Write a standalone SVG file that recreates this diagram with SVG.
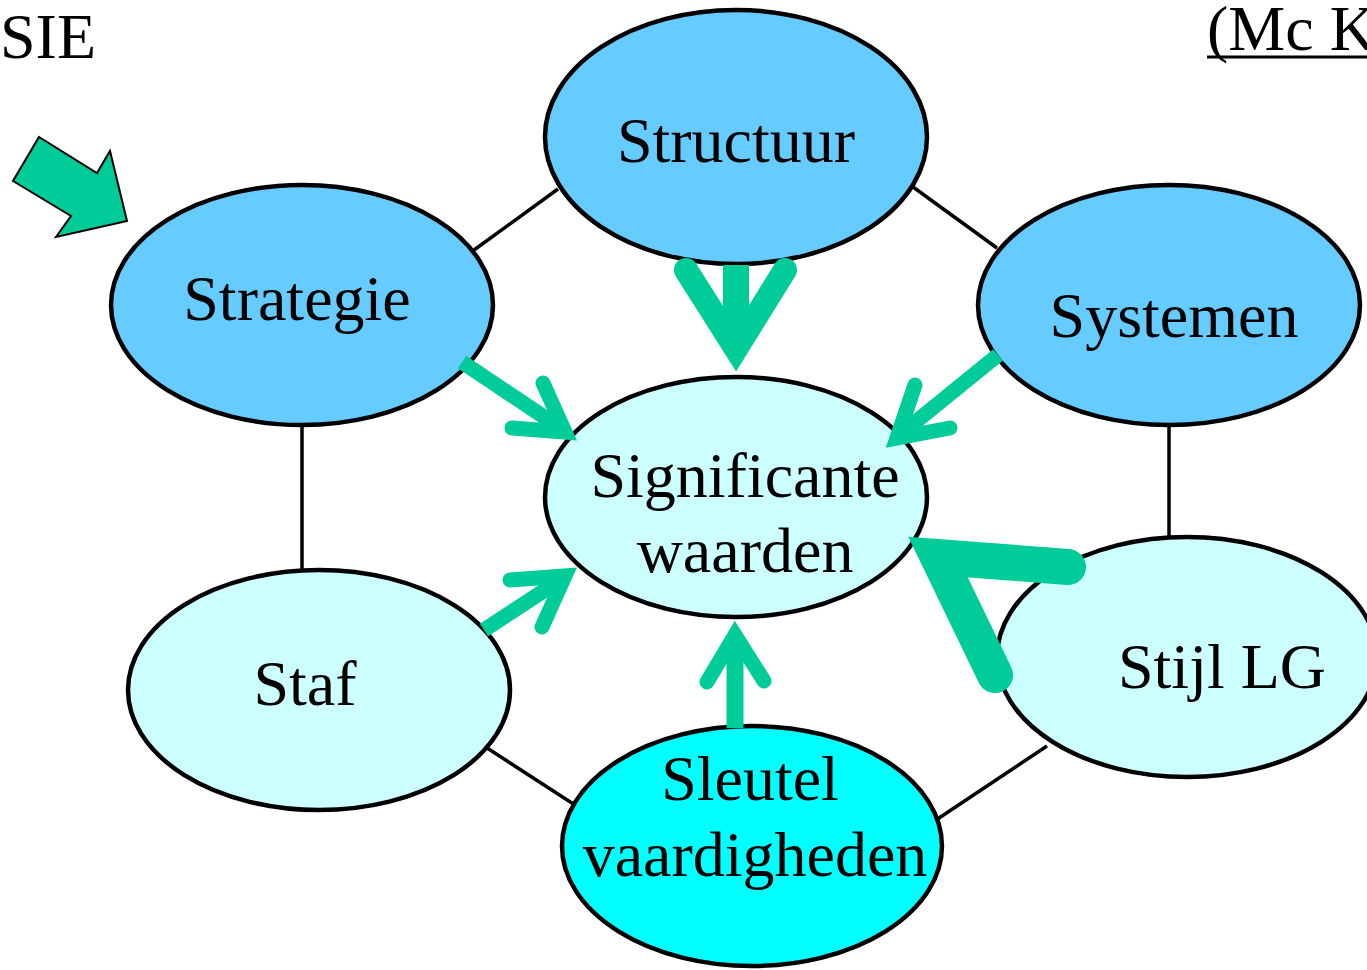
<svg xmlns="http://www.w3.org/2000/svg" width="1367" height="970" viewBox="0 0 1367 970">
<style>
.t{font-family:"Liberation Serif","Times New Roman",serif;font-size:64px;fill:#000;text-anchor:middle}
.e{stroke:#000;stroke-width:4.5}
.dark{fill:#66CCFF}
.light{fill:#CCFFFF}
.cyan{fill:#00FFFF}
.c{stroke:#000;stroke-width:3.5;fill:none}
.ah{fill:none;stroke:#00CC99;stroke-linecap:round;stroke-linejoin:miter;stroke-miterlimit:10}
.sh{fill:none;stroke:#00CC99;stroke-linecap:butt}
</style>
<rect width="1367" height="970" fill="#fff"/>
<text x="0" y="58" style="font-family:'Liberation Serif',serif;font-size:64px">SIE</text>
<text x="1207" y="50" style="font-family:'Liberation Serif',serif;font-size:64px">(Mc K</text>
<line x1="1207" y1="57" x2="1367" y2="57" stroke="#000" stroke-width="3"/>
<polygon points="39,137 97,173 110,151 127,221 56,237 71,216 13,181" fill="#00CC99" stroke="#000" stroke-width="2"/>
<g id="connectors">
<line class="c" x1="474" y1="250" x2="558" y2="189"/>
<line class="c" x1="913" y1="187" x2="997" y2="248"/>
<line class="c" x1="302" y1="425" x2="302" y2="570"/>
<line class="c" x1="1169" y1="425" x2="1169" y2="537"/>
<line class="c" x1="484" y1="746" x2="578" y2="807"/>
<line class="c" x1="930" y1="824" x2="1047" y2="746"/>
</g>
<g id="structuur"><ellipse class="e dark" cx="736" cy="137" rx="191" ry="127"/><text class="t" x="736" y="162">Structuur</text></g>
<g id="strategie"><ellipse class="e dark" cx="302" cy="305" rx="191" ry="120"/><text class="t" x="297" y="320">Strategie</text></g>
<g id="systemen"><ellipse class="e dark" cx="1169" cy="305" rx="191" ry="120"/><text class="t" x="1174" y="337">Systemen</text></g>
<g id="significante"><ellipse class="e light" cx="736" cy="497" rx="191" ry="120"/><text class="t" x="745" y="497">Significante</text><text class="t" x="745" y="572">waarden</text></g>
<g id="staf"><ellipse class="e light" cx="319" cy="690" rx="191" ry="120"/><text class="t" x="305" y="705">Staf</text></g>
<g id="stijl"><ellipse class="e light" cx="1187" cy="657" rx="190" ry="120"/><text class="t" x="1222" y="688">Stijl LG</text></g>
<g id="sleutel"><ellipse class="e cyan" cx="752" cy="846" rx="190" ry="120"/><text class="t" x="750" y="800">Sleutel</text><text class="t" x="755" y="876">vaardigheden</text></g>
<g id="arrows">
<line class="sh" x1="736" y1="265" x2="736" y2="350" stroke-width="26"/>
<path class="ah" d="M686,270 L736,349 L785,270" stroke-width="24"/>
<line class="sh" x1="735" y1="728" x2="735" y2="640" stroke-width="17"/>
<path class="ah" d="M707,682 L735,635 L764,681" stroke-width="15"/>
<line class="sh" x1="462" y1="362" x2="565" y2="431" stroke-width="15"/>
<path class="ah" d="M543,383 L565,432 L512,428" stroke-width="15"/>
<line class="sh" x1="998" y1="355" x2="897" y2="437" stroke-width="15"/>
<path class="ah" d="M915,385 L897,438 L950,428" stroke-width="15"/>
<line class="sh" x1="484" y1="630" x2="565" y2="577" stroke-width="15"/>
<path class="ah" d="M510,580 L565,576 L542,627" stroke-width="15"/>
<path class="ah" d="M1068,567 L938,557 L995,675" stroke-width="36"/>
</g>
</svg>
